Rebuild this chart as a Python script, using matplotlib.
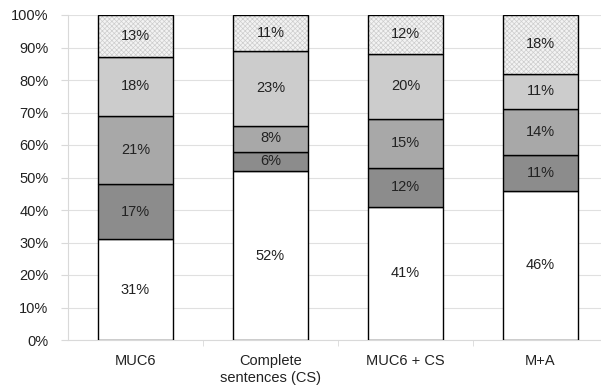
import matplotlib.pyplot as plt
import numpy as np

# share of each part per corpus, bottom to top (percent)
categories = ['MUC6', 'Complete\nsentences (CS)', 'MUC6 + CS', 'M+A']
part1 = [31, 52, 41, 46]
part2 = [17, 6, 12, 11]
part3 = [21, 8, 15, 14]
part4 = [18, 23, 20, 11]
part5 = [13, 11, 12, 18]

plt.rcParams['font.family'] = ['Liberation Sans', 'DejaVu Sans']
plt.rcParams['hatch.linewidth'] = 0.5

fig = plt.figure(figsize=(6.01, 3.85), dpi=100)
ax = fig.add_axes([68 / 601, 45 / 385, 540 / 601, 325 / 385])

x = np.arange(len(categories))
series = [part1, part2, part3, part4, part5]
colors = ['white', '#8c8c8c', '#a8a8a8', '#cccccc', '#f3f3f3']
hatches = [None, None, None, None, 'xxxxxxx']

bottom = np.zeros(len(categories))
for vals, col, h in zip(series, colors, hatches):
    vals = np.array(vals)
    if h:
        # light hatch fill first, black outline on top
        ax.bar(x, vals, 0.556, bottom=bottom, color=col, edgecolor='#cdcdcd',
               linewidth=0, hatch=h, zorder=3)
        ax.bar(x, vals, 0.556, bottom=bottom, fill=False, edgecolor='black',
               linewidth=1.0, zorder=3)
    else:
        ax.bar(x, vals, 0.556, bottom=bottom, color=col, edgecolor='black',
               linewidth=1.0, zorder=3)
    for xi, b, v in zip(x, bottom, vals):
        ax.text(xi, b + v / 2, f'{v}%', ha='center', va='center',
                fontsize=10.5, color='#222222', zorder=4)
    bottom += vals

ax.set_xlim(-0.5, len(categories) - 0.5)
ax.set_ylim(0, 100)
ax.set_yticks(range(0, 101, 10))
ax.set_yticklabels([f'{t}%' for t in range(0, 101, 10)], fontsize=10.5,
                   color='#222222')
ax.set_xticks(x)
ax.set_xticklabels(categories, fontsize=10.5, color='#222222', linespacing=1.3)
ax.set_xticks(np.arange(0.5, len(categories) - 0.5, 1), minor=True)
ax.tick_params(axis='x', which='major', length=0, pad=10)
ax.tick_params(axis='x', which='minor', length=4, color='#d9d9d9')
ax.tick_params(axis='y', length=5, color='#d9d9d9', pad=9)
ax.grid(axis='y', color='#e0e0e0', linewidth=0.8, zorder=0)
for s in ['top', 'right']:
    ax.spines[s].set_visible(False)
ax.spines['left'].set_color('#d9d9d9')
ax.spines['bottom'].set_color('#d9d9d9')

fig.savefig('out.png', dpi=100)
